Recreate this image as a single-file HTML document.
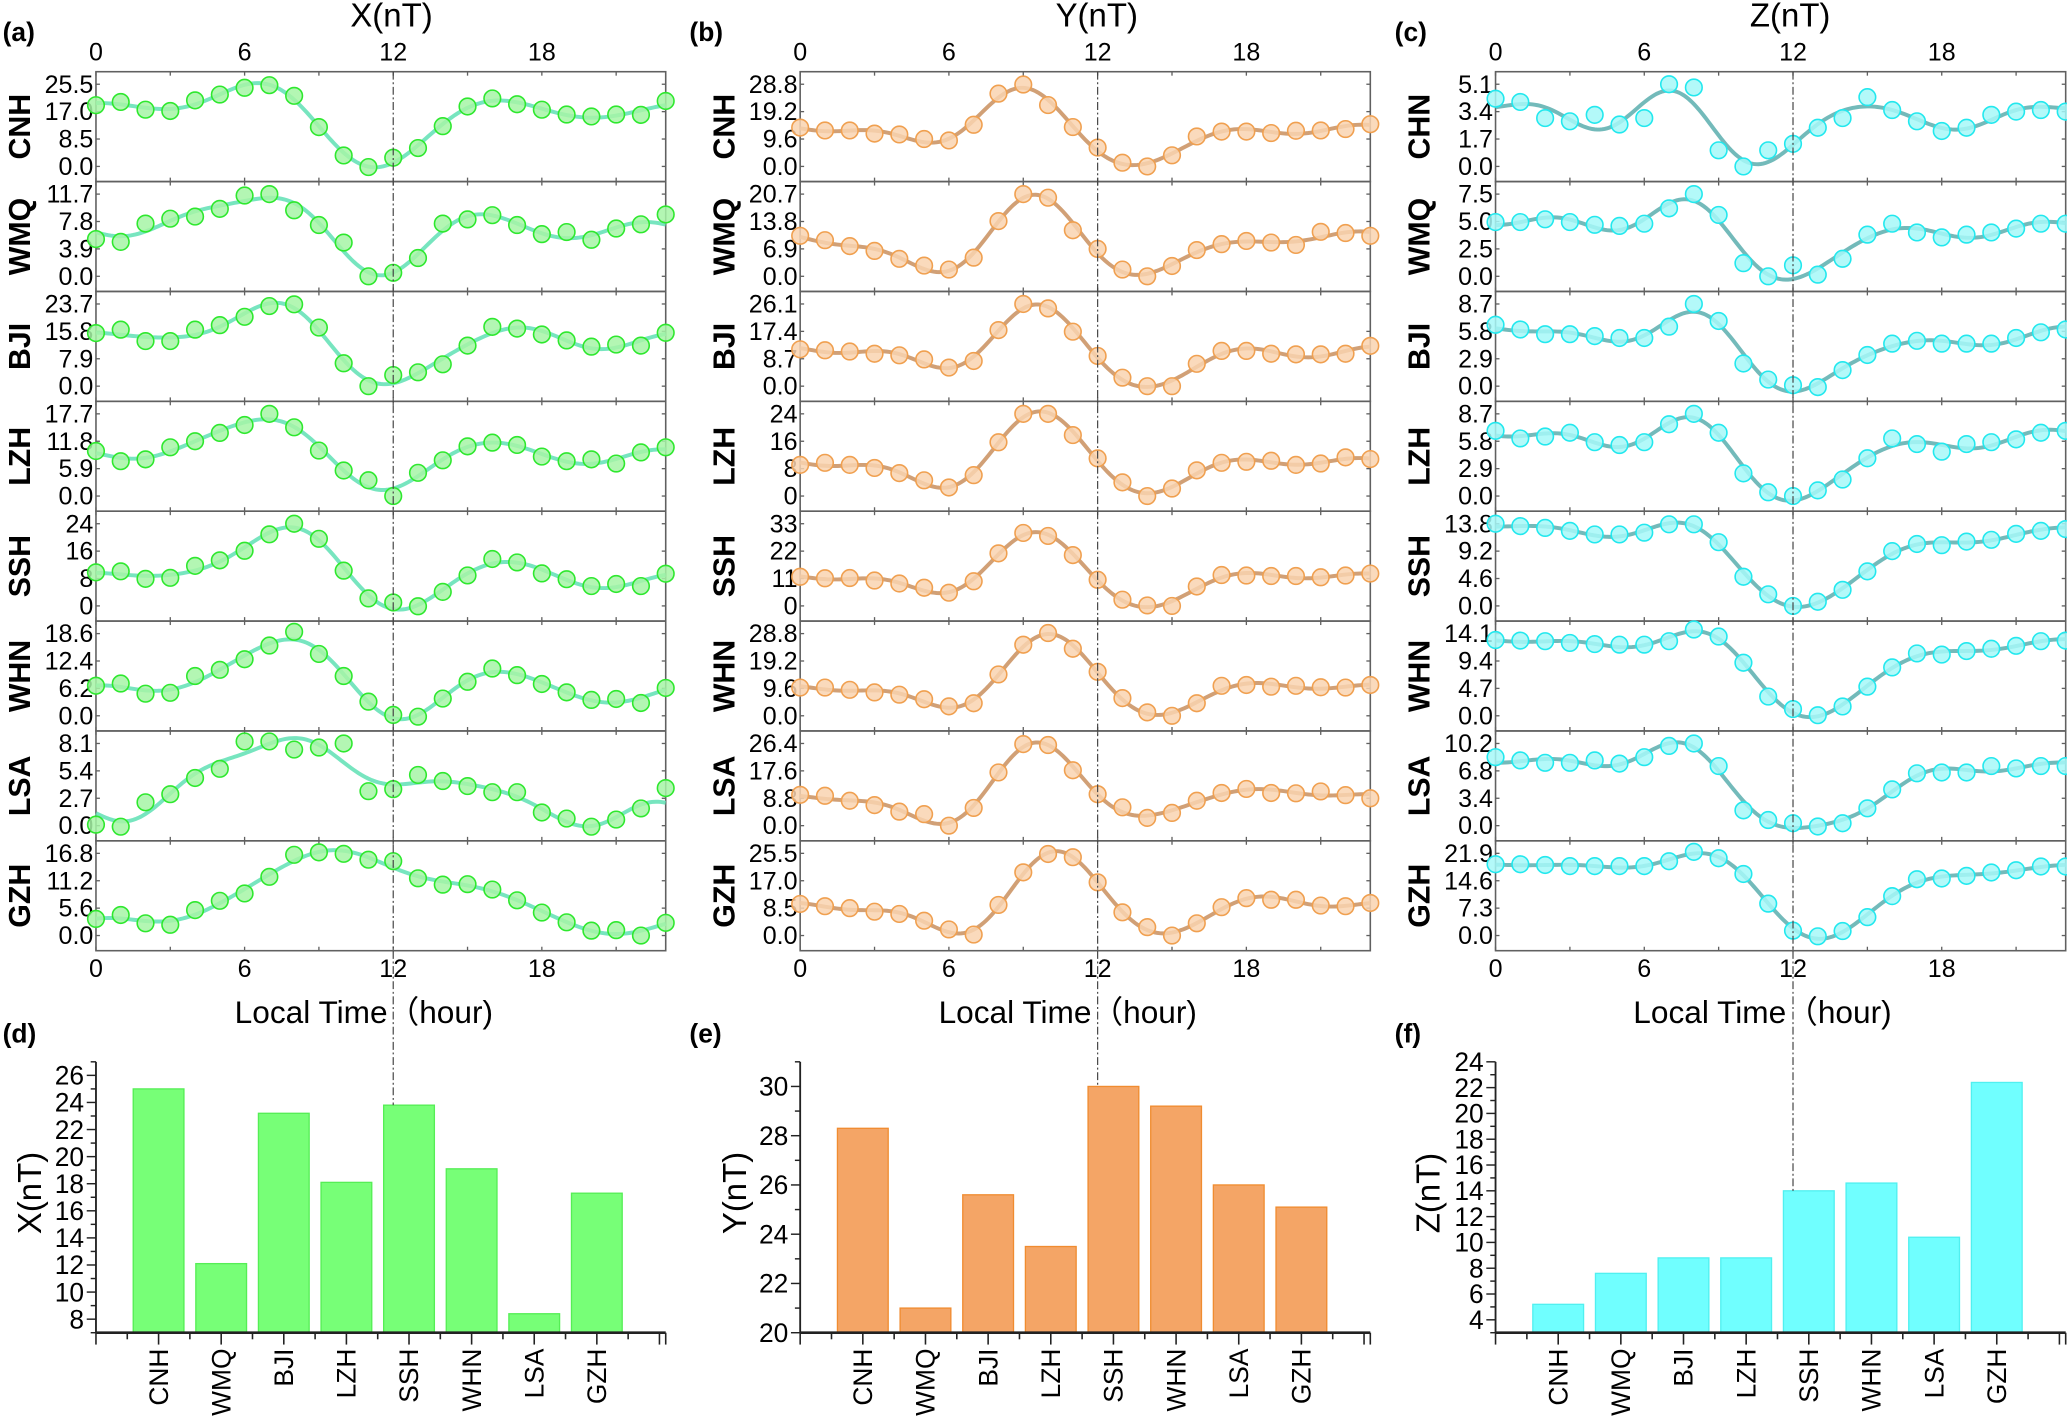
<!DOCTYPE html>
<html><head><meta charset="utf-8"><style>
html,body{margin:0;padding:0;background:#fff;}
svg{display:block;font-family:"Liberation Sans",sans-serif;}
</style></head><body>
<svg id="fig" xmlns="http://www.w3.org/2000/svg" width="2067" height="1418" viewBox="0 0 1568 1075.7" preserveAspectRatio="none"></svg>
<script>
// ---------- data ----------
const stations = ["CNH","WMQ","BJI","LZH","SSH","WHN","LSA","GZH"];
const stationsZ = ["CHN","WMQ","BJI","LZH","SSH","WHN","LSA","GZH"];
const hourTicks = [0,6,12,18];
// X component
const xCNH=[19.0,20.0,17.6,17.2,20.5,22.3,24.4,25.2,21.9,12.2,3.4,-0.2,2.7,5.7,12.5,18.6,21.1,19.3,17.6,16.1,15.5,16.1,16.0,20.3];
const xWMQ=[5.3,4.9,7.5,8.2,8.5,9.6,11.5,11.7,9.4,7.3,4.8,0.0,0.5,2.6,7.5,8.1,8.7,7.3,6.0,6.3,5.2,6.8,7.4,8.8];
const xBJI=[15.3,16.3,13.0,13.0,16.3,17.6,20.0,23.1,23.6,16.9,6.6,0.0,3.2,4.0,6.3,11.7,17.1,16.6,14.9,13.2,11.4,12.0,11.7,15.4];
const xLZH=[9.7,7.5,7.9,10.5,11.8,13.6,15.3,17.7,14.8,9.8,5.5,3.4,0.0,5.0,7.7,10.7,11.5,11.0,8.5,7.5,7.9,7.0,9.4,10.5];
const xSSH=[9.8,10.1,7.9,8.2,11.7,13.3,16.1,20.9,24.0,19.6,10.3,2.2,1.0,-0.1,4.1,8.9,13.7,12.7,9.5,7.8,5.8,6.4,5.8,9.4];
const xWHN=[6.8,7.3,5.0,5.2,9.0,10.4,12.8,15.9,19.0,14.0,9.0,3.2,0.2,-0.2,3.9,7.7,10.7,9.2,7.2,5.3,3.6,3.8,2.9,6.3];
const xLSA=[0.1,-0.1,2.3,3.1,4.7,5.6,8.3,8.3,7.5,7.7,8.1,3.4,3.6,5.0,4.4,3.9,3.3,3.3,1.3,0.7,-0.1,0.6,1.7,3.7];
const xGZH=[3.4,4.2,2.5,2.2,5.2,7.1,8.6,12.0,16.5,17.0,16.7,15.5,15.2,11.7,10.4,10.5,9.4,7.2,4.7,2.7,1.0,1.1,0.0,2.6];
// Y component
const yCNH=[13.6,12.6,12.6,11.5,11.2,9.6,9.1,14.6,25.5,28.7,21.5,13.8,6.6,1.3,0.0,3.9,10.5,12.2,12.2,11.7,12.5,12.6,13.1,14.8];
const yWMQ=[10.2,9.1,7.6,6.4,4.4,2.7,1.7,4.7,13.9,20.7,19.8,11.6,6.9,1.7,0.0,2.6,6.6,8.1,8.9,8.5,7.9,11.2,10.9,10.2];
const yBJI=[11.7,11.4,11.0,10.3,9.8,8.5,5.9,8.0,17.8,26.1,24.7,17.3,9.6,2.7,0.0,0.0,7.1,11.2,11.2,10.3,10.1,10.1,10.3,12.8];
const yLZH=[9.1,9.7,9.1,8.2,6.7,4.6,2.5,6.1,15.7,24.0,24.0,17.8,11.0,4.0,0.0,2.2,7.5,9.7,10.0,10.3,9.1,9.5,11.3,10.8];
const ySSH=[11.7,11.1,11.2,10.2,9.0,7.3,5.3,9.9,21.1,29.3,28.1,20.4,10.5,2.5,0.2,0.0,7.8,12.4,12.2,12.0,12.0,11.5,12.2,13.0];
const yWHN=[9.9,9.9,9.1,8.2,7.4,5.8,3.3,4.4,14.5,24.9,29.0,23.5,15.4,6.2,1.2,0.0,4.4,10.5,10.8,10.2,10.5,10.0,9.9,10.8];
const yLSA=[9.9,9.6,8.0,6.6,4.5,3.7,0.0,5.7,17.1,26.2,25.9,17.8,10.1,5.9,2.5,4.1,8.0,10.5,11.8,10.5,10.4,11.0,9.8,8.8];
const yGZH=[9.8,9.1,8.5,7.4,6.7,4.6,1.9,0.3,9.5,19.6,25.3,24.3,16.5,7.2,2.6,0.0,3.8,8.8,11.6,11.1,11.1,9.3,9.1,10.1];
// Z component
const zCHN=[4.2,4.0,3.0,2.8,3.2,2.6,3.0,5.1,4.9,1.0,0.0,1.0,1.4,2.4,3.0,4.3,3.5,2.8,2.2,2.4,3.2,3.4,3.5,3.4];
const zWMQ=[4.95,4.95,5.2,4.95,4.7,4.6,4.8,6.2,7.5,5.6,1.2,0.0,1.0,0.15,1.6,3.8,4.8,4.0,3.55,3.8,4.0,4.35,4.8,4.8];
const zBJI=[6.5,6.0,5.5,5.5,5.3,5.1,5.1,6.3,8.7,6.9,2.4,0.7,0.1,-0.1,1.7,3.3,4.5,4.8,4.5,4.5,4.5,5.1,5.7,6.0];
const zLZH=[6.9,6.1,6.3,6.7,5.7,5.4,5.7,7.6,8.7,6.7,2.4,0.4,0.0,0.6,1.75,4.0,6.1,5.5,4.7,5.5,5.7,6.0,6.7,6.9];
const zSSH=[13.8,13.4,13.1,12.6,12.0,12.0,12.3,13.7,13.7,10.7,4.9,1.95,0.0,0.7,2.7,5.8,9.2,10.4,10.2,10.8,11.1,12.1,12.6,12.9];
const zWHN=[13.0,12.9,12.8,12.5,12.3,12.2,12.2,12.8,14.8,13.6,9.1,3.3,1.15,0.1,1.6,5.0,8.3,10.7,10.5,11.1,11.5,12.0,12.8,12.9];
const zLSA=[8.5,8.1,7.8,7.8,8.1,7.7,8.5,9.9,10.2,7.4,1.9,0.7,0.3,-0.1,0.3,2.15,4.5,6.5,6.6,6.6,7.4,7.1,7.4,7.4];
const zGZH=[19.0,19.0,18.8,18.5,18.5,18.5,18.5,19.8,22.3,20.6,16.4,8.5,1.3,-0.2,1.2,4.9,10.5,15.0,15.2,15.9,16.8,17.4,18.4,18.4];
// row tick labels (ticks at 0, 1/3, 2/3, 1 of top tick)
const xTickLabels=[["0.0","8.5","17.0","25.5"],["0.0","3.9","7.8","11.7"],["0.0","7.9","15.8","23.7"],["0.0","5.9","11.8","17.7"],["0","8","16","24"],["0.0","6.2","12.4","18.6"],["0.0","2.7","5.4","8.1"],["0.0","5.6","11.2","16.8"]];
const yTickLabels=[["0.0","9.6","19.2","28.8"],["0.0","6.9","13.8","20.7"],["0.0","8.7","17.4","26.1"],["0","8","16","24"],["0","11","22","33"],["0.0","9.6","19.2","28.8"],["0.0","8.8","17.6","26.4"],["0.0","8.5","17.0","25.5"]];
const zTickLabels=[["0.0","1.7","3.4","5.1"],["0.0","2.5","5.0","7.5"],["0.0","2.9","5.8","8.7"],["0.0","2.9","5.8","8.7"],["0.0","4.6","9.2","13.8"],["0.0","4.7","9.4","14.1"],["0.0","3.4","6.8","10.2"],["0.0","7.3","14.6","21.9"]];
// bar amplitudes
const barX=[25.0,12.1,23.2,18.1,23.8,19.1,8.4,17.3];
const barY=[28.3,21.0,25.6,23.5,30.0,29.2,26.0,25.1];
const barZ=[5.2,7.6,8.8,8.8,14.0,14.6,10.4,22.4];
const barXTicks=[8,10,12,14,16,18,20,22,24,26];
const barYTicks=[20,22,24,26,28,30];
const barZTicks=[4,6,8,10,12,14,16,18,20,22,24];

// ---------- drawing ----------
const NS="http://www.w3.org/2000/svg";
const svg=document.getElementById('fig');
function mk(tag,attrs,parent,text){const e=document.createElementNS(NS,tag);for(const k in attrs)e.setAttribute(k,attrs[k]);if(text!==undefined)e.textContent=text;(parent||svg).appendChild(e);return e;}

const ROW0=54.4, RH=83.35;
const panels=[
 {key:'a',left:72.8,right:505,title:'X(nT)',names:stations,series:[xCNH,xWMQ,xBJI,xLZH,xSSH,xWHN,xLSA,xGZH],ticks:xTickLabels,
  mfill:'#a6f5a6',mstroke:'#2ee82e',line:'#5fe0b4',bar:'#77ff77',barStroke:'#55ee55',bars:barX,bmin:7,bmax:27,bticks:barXTicks,ytitle:'X(nT)'},
 {key:'b',left:607,right:1039.5,title:'Y(nT)',names:stations,series:[yCNH,yWMQ,yBJI,yLZH,ySSH,yWHN,yLSA,yGZH],ticks:yTickLabels,
  mfill:'#f9d3b0',mstroke:'#f0a050',line:'#c98f5e',bar:'#f4a566',barStroke:'#f08c30',bars:barY,bmin:20,bmax:31,bticks:barYTicks,ytitle:'Y(nT)'},
 {key:'c',left:1134.5,right:1567,title:'Z(nT)',names:stationsZ,series:[zCHN,zWMQ,zBJI,zLZH,zSSH,zWHN,zLSA,zGZH],ticks:zTickLabels,
  mfill:'#a6f8f8',mstroke:'#22e8ee',line:'#5aaeae',bar:'#70ffff',barStroke:'#50f0f0',bars:barZ,bmin:3,bmax:24,bticks:barZTicks,ytitle:'Z(nT)'}
];
const labelsTop=['(a)','(b)','(c)'], labelsBot=['(d)','(e)','(f)'];
const labelX=[2,523,1058];
const titleX=[297,832,1358];
const localX=[276,810,1337];
const barTitleX=[22,557,1083];

// Fourier fit (harmonics 1..5, period 24)
function fitCurve(vals){
  const N=vals.length, K=5; let a0=0; for(const v of vals)a0+=v; a0/=N;
  const A=[],B=[];
  for(let k=1;k<=K;k++){let a=0,b=0;for(let n=0;n<N;n++){const w=2*Math.PI*k*n/24;a+=vals[n]*Math.cos(w);b+=vals[n]*Math.sin(w);}A.push(2*a/N);B.push(2*b/N);}
  return t=>{let s=a0;for(let k=1;k<=K;k++){const w=2*Math.PI*k*t/24;s+=A[k-1]*Math.cos(w)+B[k-1]*Math.sin(w);}return s;};
}

panels.forEach((p,pi)=>{
  const g=mk('g',{});
  
  
  const xs=h=>p.left+h*(p.right-p.left)/23;
  const lt=mk('text',{x:labelX[pi],y:31,'font-size':20,'font-weight':'bold',fill:'#000'},g,labelsTop[pi]);
  
  
  const tt=mk('text',{x:titleX[pi],y:20,'font-size':25,'text-anchor':'middle',fill:'#000'},g,p.title);
  
  
  hourTicks.forEach(h=>{
    const a=mk('text',{x:xs(h),y:46,'font-size':19,'text-anchor':'middle'},g,String(h));
    
    
    const b=mk('text',{x:xs(h),y:741,'font-size':19,'text-anchor':'middle'},g,String(h));
    
    
  });
  const xl=mk('text',{x:localX[pi],y:776,'font-size':24,'text-anchor':'middle',fill:'#000'},g,'Local Time（hour)');
  
  

  p.series.forEach((vals,ri)=>{
    const top=ROW0+ri*RH, bot=top+RH;
    const y0=bot-11.5, y1=top+9.5;
    const maxT=parseFloat(p.ticks[ri][3]);
    const ys=v=>y0-v/maxT*(y0-y1);
    const rg=mk('g',{},g);
    
    
    const fr=mk('rect',{x:p.left,y:top,width:p.right-p.left,height:RH,fill:'none',stroke:'#606060','stroke-width':1.2},rg);
    
    
    for(let h=0;h<=23;h+=3){
      const x=xs(h);
      mk('line',{x1:x,x2:x,y1:top,y2:top+3,stroke:'#606060','stroke-width':1},rg);
      mk('line',{x1:x,x2:x,y1:bot,y2:bot-3,stroke:'#606060','stroke-width':1},rg);
    }
    p.ticks[ri].forEach((lab,ti)=>{
      const v=maxT*ti/3, y=ys(v);
      mk('line',{x1:p.left,x2:p.left+3,y1:y,y2:y,stroke:'#606060','stroke-width':1},rg);
      mk('line',{x1:p.right,x2:p.right-3,y1:y,y2:y,stroke:'#606060','stroke-width':1},rg);
      const t=mk('text',{x:p.left-2,y:y+6.5,'font-size':19,'text-anchor':'end'},rg,lab);
      
      
    });
    const rl=mk('text',{x:0,y:0,'font-size':23,'font-weight':'bold','text-anchor':'middle',transform:`translate(${p.left-50},${(top+bot)/2}) rotate(-90)`},rg,p.names[ri]);
    
    
    const f=fitCurve(vals); let d='';
    for(let i=0;i<=230;i++){const t=i/10;d+=(i?'L':'M')+xs(t).toFixed(2)+','+ys(f(t)).toFixed(2);}
    const cl=mk('path',{d:d,fill:'none',stroke:p.line,'stroke-width':3,'stroke-opacity':0.85},rg);
    
    
    vals.forEach((v,h)=>{
      const c=mk('ellipse',{cx:xs(h),cy:ys(v),rx:6.3,ry:6.3,fill:p.mfill,'fill-opacity':0.85,stroke:p.mstroke,'stroke-width':1.2},rg);
      
      
    });
  });

  // ----- bar chart -----
  const bg=mk('g',{},g);
  
  
  const BT=805.5, BB=1011;
  const bys=v=>BB-(v-p.bmin)/(p.bmax-p.bmin)*(BB-BT);
  const unit=(p.right-p.left)/9.1;
  const bxs=i=>p.left+(i+1)*unit;
  const bl=mk('text',{x:labelX[pi],y:791,'font-size':20,'font-weight':'bold'},bg,labelsBot[pi]);
  
  
  p.bars.forEach((v,i)=>{
    const r=mk('rect',{x:bxs(i)-0.405*unit,y:bys(v),width:0.81*unit,height:BB-bys(v),fill:p.bar,stroke:p.barStroke,'stroke-width':1},bg);
    
    
    const t=mk('text',{x:0,y:0,'font-size':20,'text-anchor':'end',transform:`translate(${bxs(i)+7},${BB+12}) rotate(-90)`},bg,stations[i]);
    
    
  });
  mk('line',{x1:p.left,x2:p.left,y1:BT,y2:BB,stroke:'#222','stroke-width':1.4},bg);
  mk('line',{x1:p.left,x2:p.right,y1:BB,y2:BB,stroke:'#222','stroke-width':2},bg);
  for(let k=0;k<=18;k++){
    const x=p.left+k*unit/2; if(x>p.right+0.5)break;
    mk('line',{x1:x,x2:x,y1:BB,y2:BB+(k%2===0?9:5),stroke:'#222','stroke-width':1.2},bg);
  }
  mk('line',{x1:p.right,x2:p.right,y1:BB,y2:BB+9,stroke:'#222','stroke-width':1.2},bg);
  for(let v=p.bmin;v<=p.bmax;v++){
    const major=p.bticks.indexOf(v)>=0;
    mk('line',{x1:p.left,x2:p.left-(major?7:4),y1:bys(v),y2:bys(v),stroke:'#222','stroke-width':1.1},bg);
  }
  p.bticks.forEach(v=>{
    const t=mk('text',{x:p.left-9,y:bys(v)+7,'font-size':20,'text-anchor':'end'},bg,String(v));
    
    
  });
  const yt=mk('text',{x:0,y:0,'font-size':25,'text-anchor':'middle',transform:`translate(${barTitleX[pi]+9},905) rotate(-90)`},bg,p.ytitle);
  
  

  const vl=mk('line',{x1:xs(12),x2:xs(12),y1:ROW0,y2:bys(p.bars[4]),stroke:'#444','stroke-width':0.9,'stroke-dasharray':'6 2 1.5 2'},g);
  
  
});
</script>
</body></html>
